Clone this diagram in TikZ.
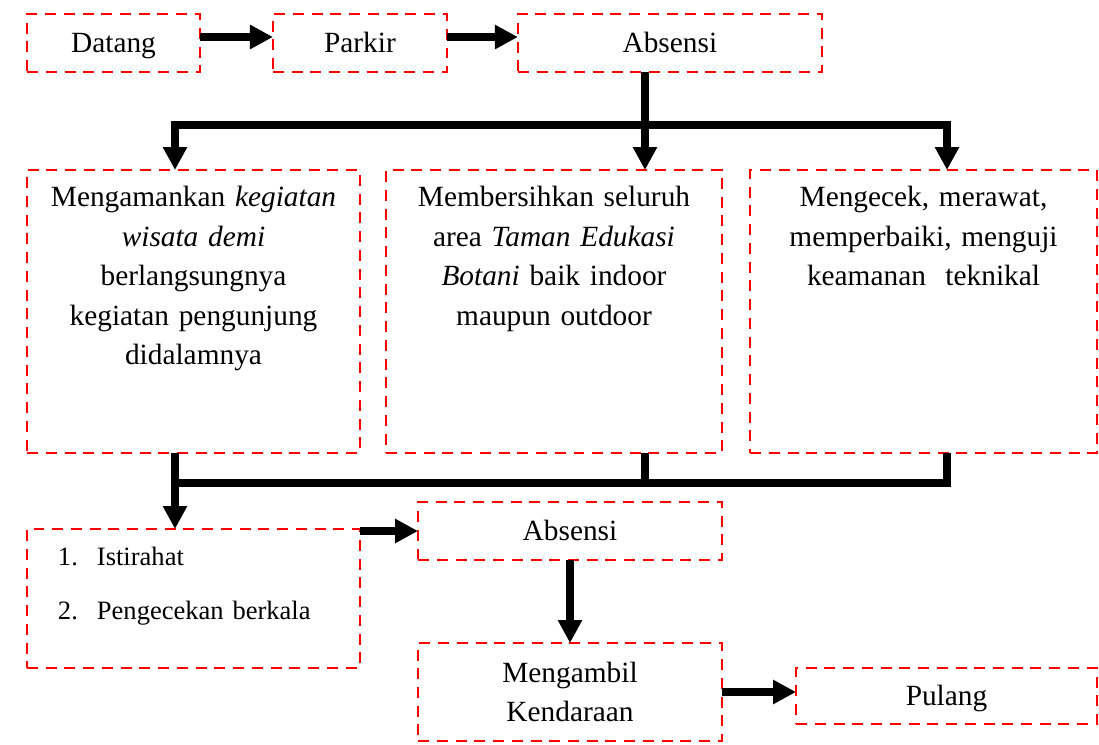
\documentclass[tikz,border=0pt]{standalone}
\usepackage{fontspec}
\setmainfont{Liberation Serif}
\usetikzlibrary{arrows.meta,positioning}

\begin{document}
\begin{tikzpicture}[
    x=0.02cm, y=-0.02cm,
    node distance=1.44cm,
    >={Triangle[length=0.46cm,width=0.46cm]},
    font=\fontsize{16.7}{22.5}\selectfont,
    dashbox/.style={
		rectangle,
		draw=red,
		line width=0.05cm,
		dash pattern=on 0.22cm off 0.155cm,
		outer sep=0pt,
		text=black,
		align=center
	},
    stepbox/.style={
		dashbox,
		minimum height=1.16cm,
		text height=0.46cm,
		text depth=0.1cm
	},
	taskbox/.style={
		dashbox,
		anchor=north,
		inner sep=0pt,
		text width=6.2cm,
		minimum width=#1,
		text height=0.734cm,
		text depth=4.926cm
	},
	conn/.style={
		draw=black,
		line width=0.15cm
	}
  ]
  \useasboundingbox (0,0) rectangle (1099,744);

    % top row
  \node [stepbox, minimum width=3.46cm] (datang) at (113.5,43) {Datang};
  \node [stepbox, minimum width=3.48cm, right=1.46cm of datang] (parkir) {Parkir};
  \node [stepbox, minimum width=6.08cm, right=1.42cm of parkir] (absen1) {Absensi};

    % the three tasks
  \node [taskbox=6.66cm] (aman) at (193.5,170)
 {Mengamankan \textit{kegiatan}\\ \textit{wisata demi}\\ berlangsungnya\\ kegiatan pengunjung\\ didalamnya};
  \node [taskbox=6.72cm] (bersih) at (554,170)
 {Membersihkan seluruh\\ area \textit{Taman Edukasi}\\ \textit{Botani} baik indoor\\ maupun outdoor};
  \node [taskbox=6.94cm] (cek) at (923.5,170)
 {Mengecek, merawat,\\ memperbaiki, menguji\\ keamanan\ \ teknikal};

    % last part
  \node [dashbox, anchor=north west, inner xsep=0.62cm, inner ysep=0pt,
         text width=5.42cm, align=left, text height=0.72cm, text depth=2.06cm,
         font=\fontsize{15.1}{31.3}\selectfont] (rehat) at (27,529)
 {\makebox[0.78cm][l]{1.}Istirahat\\ \makebox[0.78cm][l]{2.}Pengecekan berkala};
  \node [stepbox, minimum width=6.08cm] (absen2) at (570,531) {Absensi};
  \node [dashbox, minimum width=6.08cm, minimum height=1.96cm] (ambil) at (570,692) {Mengambil\\ Kendaraan};
  \node [stepbox, minimum width=6.02cm, minimum height=1.12cm] (pulang) at (946.5,696) {Pulang};

  \coordinate (tl) at (175,125);
  \coordinate (tm) at (645,125);
  \coordinate (tr) at (947,125);
  \coordinate (bl) at (175,483);
  \coordinate (bm) at (645,483);
  \coordinate (br) at (947,483);

 \draw [conn,->] ([yshift=0.12cm]datang.east) -- ([yshift=0.12cm]parkir.west);
 \draw [conn,->] ([yshift=0.12cm]parkir.east) -- ([yshift=0.12cm]absen1.west);

 \draw [conn,->] (absen1.south -| tm) -- (bersih.north -| tm);
 \draw [conn,->] (tm) -| (aman.north -| tl);
 \draw [conn,->] (tm) -| (cek.north -| tr);

 \draw [conn] (cek.south -| br) |- (bl);
 \draw [conn] (bersih.south -| bm) -- (bm);
 \draw [conn,->] (aman.south -| bl) -- (rehat.north -| bl);

 \draw [conn,->] (absen2.west -| rehat.east) -- (absen2.west);
 \draw [conn,->] (absen2) -- (ambil);
 \draw [conn,->] (ambil.east) -- (ambil.east -| pulang.west);

\end{tikzpicture}
\end{document}
